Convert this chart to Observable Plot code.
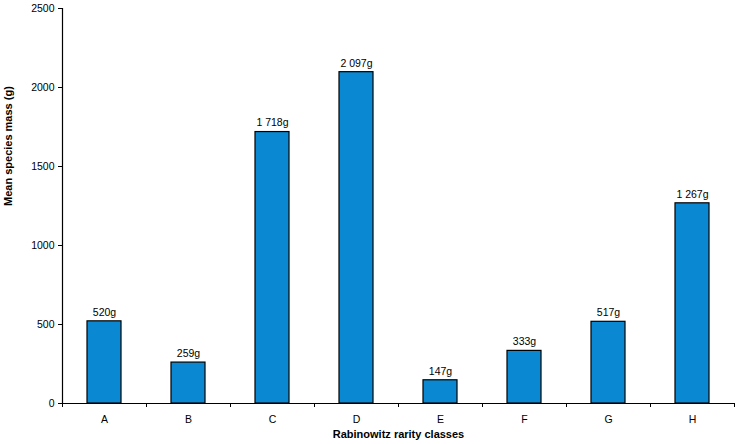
<!DOCTYPE html>
<html>
<head>
<meta charset="utf-8">
<script src="https://cdn.jsdelivr.net/npm/d3@7"></script>
<script src="https://cdn.jsdelivr.net/npm/@observablehq/plot@0.6"></script>
<style>
  html, body { margin: 0; padding: 0; background: #fff; }
  #chart { width: 742px; height: 444px; }
  svg { font-family: "Liberation Sans", Arial, sans-serif; }
</style>
</head>
<body>
<div id="chart"></div>
<script>
const categories = ["A", "B", "C", "D", "E", "F", "G", "H"];
const masses = [520, 259, 1718, 2097, 147, 333, 517, 1267];
const yTicks = [0, 500, 1000, 1500, 2000, 2500];

const data = categories.map((c, i) => ({cls: c, mass: masses[i]}));
const fmt = d3.formatLocale({decimal: ".", thousands: "\u00a0", grouping: [3]}).format(",d");

const W = 742, H = 444;
const mL = 62, mR = 8, mT = 8, mB = 41;
const bw = (W - mL - mR) / categories.length;

const chart = Plot.plot({
  width: W,
  height: H,
  marginLeft: mL,
  marginRight: mR,
  marginTop: mT,
  marginBottom: mB,
  style: {fontFamily: "Liberation Sans, Arial, sans-serif", fontSize: "10.5px", color: "#000", background: "#fff"},
  x: {domain: categories, paddingInner: 0.6, paddingOuter: 0.3, label: null},
  y: {domain: [0, 2500], label: null},
  marks: [
    Plot.barY(data, {x: "cls", y: "mass", fill: "#0a89d2", stroke: "#000", strokeWidth: 1.2}),
    Plot.text(data, {x: "cls", y: "mass", text: d => fmt(d.mass) + "g", dy: -9, fontSize: 10.5, fill: "#000"}),
    Plot.ruleY([0], {stroke: "#000", strokeWidth: 1.2}),
    Plot.frame({anchor: "left", stroke: "#000", strokeWidth: 1.2}),
    Plot.ruleX(categories, {x: d => d, dx: -bw / 2, y1: 0, y2: 0, insetBottom: -4, stroke: "#000"}),
    Plot.ruleX(categories.slice(-1), {x: d => d, dx: bw / 2, y1: 0, y2: 0, insetBottom: -4, stroke: "#000"}),
    Plot.axisY({ticks: yTicks, tickSize: 4, tickPadding: 4, tickFormat: d => String(d), label: null, stroke: "#000"}),
    Plot.axisX({tickSize: 0, tickPadding: 12, label: null}),
    Plot.text(["Rabinowitz rarity classes"], {frameAnchor: "bottom", dy: 34, fontWeight: "bold", fontSize: 11}),
    Plot.text(["Mean species mass (g)"], {frameAnchor: "left", dx: -54, rotate: -90, fontWeight: "bold", fontSize: 11})
  ]
});
document.getElementById("chart").appendChild(chart);
</script>
</body>
</html>
